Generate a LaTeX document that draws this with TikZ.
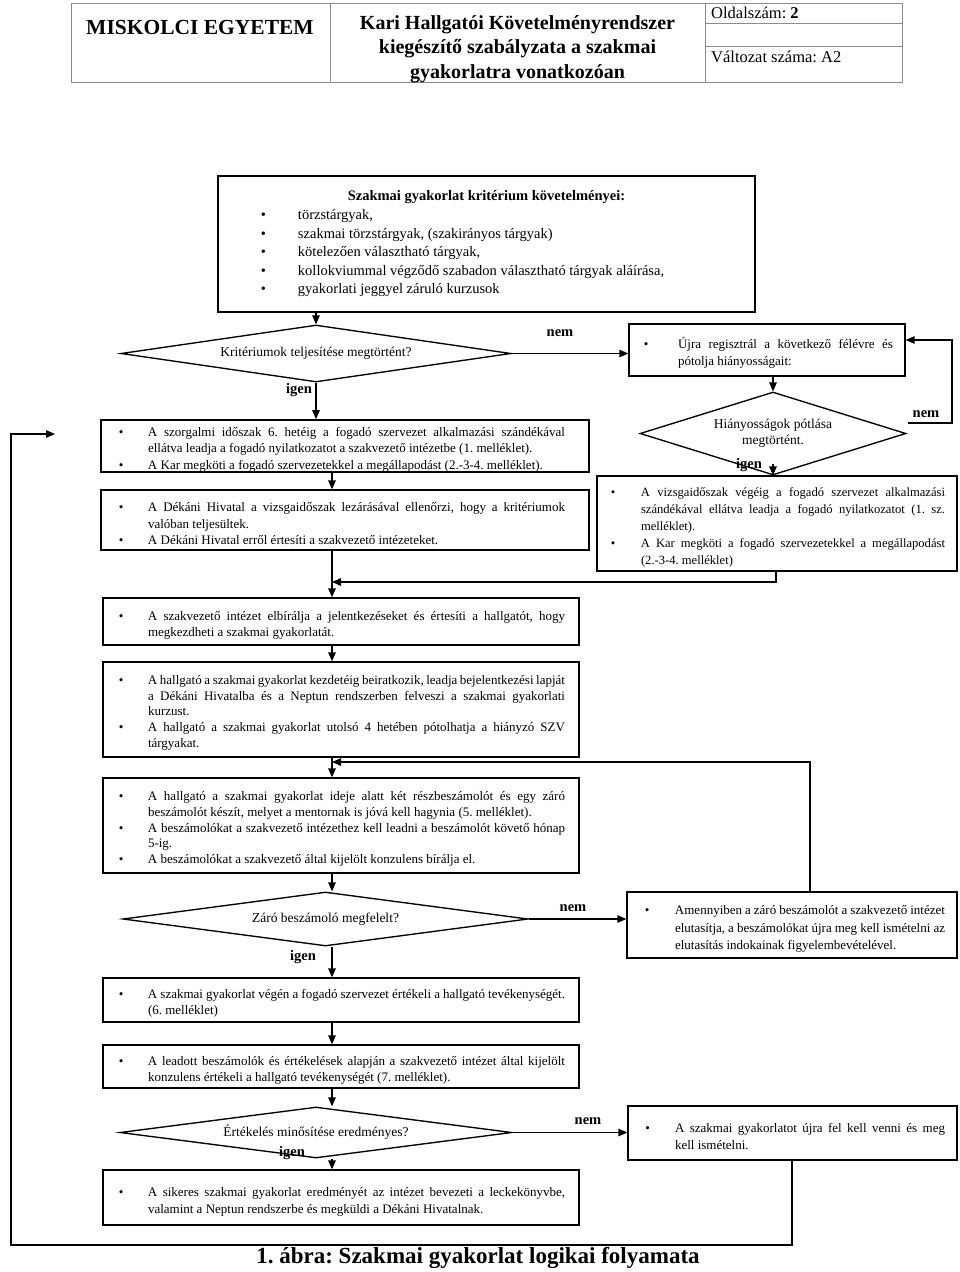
\documentclass[tikz,border=0pt]{standalone}
\usepackage{fontspec}
\setmainfont{Liberation Serif}
\usetikzlibrary{arrows.meta,shapes.geometric}
\frenchspacing
\newlength\bgap
\newcommand\itm[1]{\par\noindent\llap{\textbullet\hspace{\bgap}}#1\par}
\newcommand\bset[5]{\fontsize{#1}{#2}\selectfont\frenchspacing\leftskip=#3pt\relax\rightskip=#4pt\relax\setlength\bgap{#5pt}\parfillskip=0pt plus 1fil\relax\parindent=0pt\hyphenpenalty=10000\exhyphenpenalty=10000\tolerance=9999\relax}
\begin{document}
\begin{tikzpicture}[x=1pt,y=-1pt,
  box/.style={draw, line width=1.35pt, rectangle, inner sep=0pt, align=justify},
  dec/.style={draw, diamond, line width=1.35pt, inner sep=0pt, align=center, font=\fontsize{13.5}{16.5}\selectfont},
  arr/.style={line width=1.35pt, -{Triangle[length=9pt,width=7.5pt]}},
  lab/.style={inner sep=0pt, font=\fontsize{14.5}{16}\selectfont\bfseries},
  hdr/.style={draw=black!45, line width=0.9pt},
  htext/.style={inner sep=0pt, font=\fontsize{20}{24.5}\selectfont\bfseries, align=center},
  ctext/.style={inner sep=0pt, anchor=west, font=\fontsize{16.5}{18}\selectfont}
]
\useasboundingbox (0,0) rectangle (960,1272);
% header
\draw[hdr] (71,3) rectangle (902,82);
\draw[hdr] (330,3) -- (330,82);
\draw[hdr] (705,3) -- (705,82);
\draw[hdr] (705,23) -- (902,23);
\draw[hdr] (705,46) -- (902,46);
\node[htext, font=\fontsize{21.5}{24}\selectfont\bfseries] (h1) at (200,27) {MISKOLCI EGYETEM};
\node[htext] (h2) at (517.5,49) {Kari Hallgatói Követelményrendszer\\kiegészítő szabályzata a szakmai\\gyakorlatra vonatkozóan};
\node[ctext] (h3) at (711,13) {Oldalszám: \textbf{2}};
\node[ctext] (h4) at (711,57) {Változat száma: A2};

% boxes
\node[box, text width=537pt, minimum height=136pt] (b1) at (486.5,244) {\bset{14.5}{18.6}{80}{20}{32}%
{\centering\bfseries Szakmai gyakorlat kritérium követelményei:\par}%
\itm{törzstárgyak,}\itm{szakmai törzstárgyak, (szakirányos tárgyak)}\itm{kötelezően választható tárgyak,}\itm{kollokviummal végződő szabadon választható tárgyak aláírása,}\itm{gyakorlati jeggyel záruló kurzusok}\vspace{15pt}};

\node[dec, minimum width=390pt, minimum height=57pt, shape aspect=6.84] (d1) at (316,353.5) {Kritériumok teljesítése megtörtént?};

\node[box, text width=276pt, minimum height=52pt] (u1) at (767,350) {\bset{13}{17}{49}{12}{29.5}\itm{Újra regisztrál a következő félévre és\linebreak pótolja hiányosságait:}};

\node[dec, minimum width=266pt, minimum height=83pt, shape aspect=3.2] (d2) at (773,433.5) {Hiányosságok pótlása\\megtörtént.};

\node[box, text width=360pt, minimum height=95pt] (rb) at (777,523.5) {\bset{12.6}{16.8}{44}{12}{25.8}\itm{A vizsgaidőszak végéig a fogadó szervezet alkalmazási\linebreak szándékával ellátva leadja a fogadó nyilatkozatot (1. sz.\linebreak melléklet).}\itm{A Kar megköti a fogadó szervezetekkel a megállapodást\linebreak (2.-3-4. melléklet)}};

\node[box, text width=488pt, minimum height=52pt] (b2) at (345,446) {\bset{13}{16.5}{47}{24}{24.5}\itm{A szorgalmi időszak 6. hetéig a fogadó szervezet alkalmazási szándékával\linebreak ellátva leadja a fogadó nyilatkozatot a szakvezető intézetbe (1. melléklet).}\itm{A Kar megköti a fogadó szervezetekkel a megállapodást (2.-3-4. melléklet).}};

\node[box, text width=488pt, minimum height=60pt] (b3) at (345,520) {\bset{13}{16.5}{47}{24}{24.5}\itm{A Dékáni Hivatal a vizsgaidőszak lezárásával ellenőrzi, hogy a kritériumok\linebreak valóban teljesültek.}\itm{A Dékáni Hivatal erről értesíti a szakvezető intézeteket.}};

\node[box, text width=476pt, minimum height=47pt] (b4) at (341,621.5) {\bset{13}{16.5}{45}{14}{24.5}\itm{A szakvezető intézet elbírálja a jelentkezéseket és értesíti a hallgatót, hogy\linebreak megkezdheti a szakmai gyakorlatát.}};

\node[box, text width=476pt, minimum height=95pt] (b5) at (341,709.5) {\bset{13}{15.6}{45}{14}{24.5}\itm{A hallgató a szakmai gyakorlat kezdetéig beiratkozik, leadja bejelentkezési lapját\linebreak a Dékáni Hivatalba és a Neptun rendszerben felveszi a szakmai gyakorlati\linebreak kurzust.}\itm{A hallgató a szakmai gyakorlat utolsó 4 hetében pótolhatja a hiányzó SZV\linebreak tárgyakat.}};

\node[box, text width=476pt, minimum height=95pt] (b6) at (341,825.5) {\bset{13}{15.8}{45}{14}{24.5}\itm{A hallgató a szakmai gyakorlat ideje alatt két részbeszámolót és egy záró\linebreak beszámolót készít, melyet a mentornak is jóvá kell hagynia (5. melléklet).}\itm{A beszámolókat a szakvezető intézethez kell leadni a beszámolót követő hónap\linebreak 5-ig.}\itm{A beszámolókat a szakvezető által kijelölt konzulens bírálja el.}};

\node[dec, minimum width=405pt, minimum height=54pt, shape aspect=7.5] (d3) at (325.5,919) {Záró beszámoló megfelelt?};

\node[box, text width=330pt, minimum height=66pt] (am) at (792,925) {\bset{13}{17.5}{48}{12}{25.7}\itm{Amennyiben a záró beszámolót a szakvezető intézet\linebreak elutasítja, a beszámolókat újra meg kell ismételni az\linebreak elutasítás indokainak figyelembevételével.}\vspace{9pt}};

\node[box, text width=476pt, minimum height=44pt] (b7) at (341,1000) {\bset{13}{16}{45}{14}{24.5}\itm{A szakmai gyakorlat végén a fogadó szervezet értékeli a hallgató tevékenységét.\linebreak (6. melléklet)}};

\node[box, text width=476pt, minimum height=43pt] (b8) at (341,1066.5) {\bset{13}{16}{45}{14}{24.5}\itm{A leadott beszámolók és értékelések alapján a szakvezető intézet által kijelölt\linebreak konzulens értékeli a hallgató tevékenységét (7. melléklet).}};

\node[dec, minimum width=392pt, minimum height=51pt, shape aspect=7.7] (d4) at (316,1132.5) {Értékelés minősítése eredményes?};

\node[box, text width=329pt, minimum height=54pt] (u2) at (792.5,1133) {\bset{13}{17}{47}{12}{25}\itm{A szakmai gyakorlatot újra fel kell venni és meg\linebreak kell ismételni.}\vspace{7pt}};

\node[box, text width=476pt, minimum height=55pt] (b9) at (341,1197.5) {\bset{13}{17}{45}{14}{24.5}\itm{A sikeres szakmai gyakorlat eredményét az intézet bevezeti a leckekönyvbe,\linebreak valamint a Neptun rendszerbe és megküldi a Dékáni Hivatalnak.}};

\node[inner sep=0pt, font=\fontsize{23}{26}\selectfont\bfseries] (cap) at (478,1258) {1. ábra: Szakmai gyakorlat logikai folyamata};

% labels
\node[lab] (n1) at (560,333) {nem};
\node[lab] (g1) at (299,390) {igen};
\node[lab] (n2) at (926,414) {nem};
\node[lab] (g2) at (749,465) {igen};
\node[lab] (n3) at (573,908) {nem};
\node[lab] (g3) at (303,957) {igen};
\node[lab] (n4) at (588,1121) {nem};
\node[lab] (g4) at (292,1153) {igen};

% coordinates
\coordinate (col) at (332,0);
\coordinate (d2n) at (908,423);
\coordinate (rl1) at (952,423);
\coordinate (rl2) at (952,340);
\coordinate (m1) at (776,582);
\coordinate (m2) at (810,762);
\coordinate (lb) at (792,1245);
\coordinate (ll) at (11,1245);
\coordinate (lt) at (11,434);
\coordinate (la) at (55,434);

% connectors
\draw[arr] (d1.north |- b1.south) -- (d1.north);
\draw[arr] (d1.east) -- (d1.east -| u1.west);
\draw[arr] (d1.south) -- (d1.south |- b2.north);
\draw[arr] (d2.north |- u1.south) -- (d2.north);
\draw[arr] ([yshift=12pt]d2.south) -- (d2.south |- rb.north);
\draw[arr] (d2n) -- (rl1) -- (rl2) -- (rl2 -| u1.east);
\draw[arr] (col |- b2.south) -- (col |- b3.north);
\draw[arr] (col |- b3.south) -- (col |- b4.north);
\draw[arr] (rb.south -| m1) -- (m1) -- (m1 -| col);
\draw[arr] (col |- b4.south) -- (col |- b5.north);
\draw[arr] (col |- b5.south) -- (col |- b6.north);
\draw[arr] (am.north -| m2) -- (m2) -- (m2 -| col);
\draw[arr] (col |- b6.south) -- (col |- d3.north);
\draw[arr] (d3.east) -- (d3.east -| am.west);
\draw[arr] (col |- d3.south) -- (col |- b7.north);
\draw[arr] (col |- b7.south) -- (col |- b8.north);
\draw[arr] (col |- b8.south) -- (col |- d4.north);
\draw[arr] (d4.east) -- (d4.east -| u2.west);
\draw[arr] (col |- d4.south) -- (col |- b9.north);
\draw[arr] (u2.south -| lb) -- (lb) -- (ll) -- (lt) -- (la);
\end{tikzpicture}
\end{document}
